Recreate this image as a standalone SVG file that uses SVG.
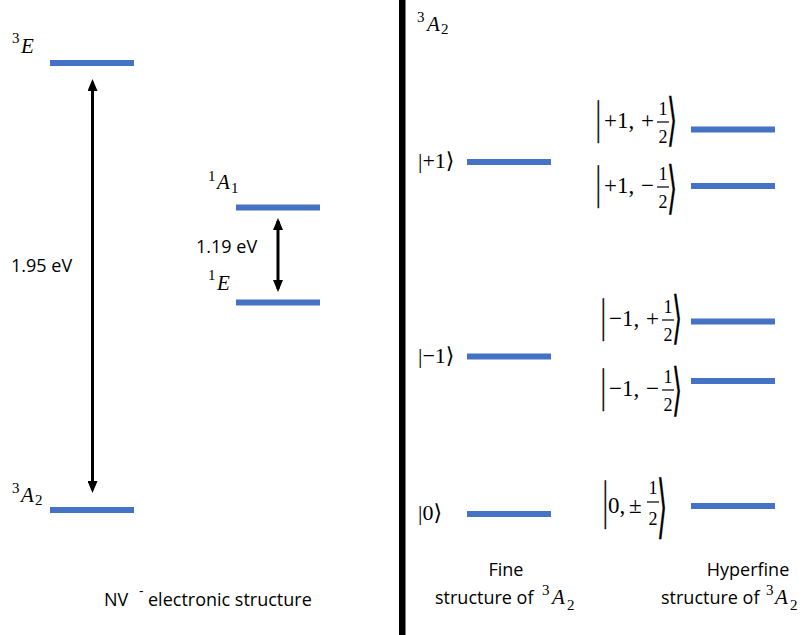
<svg xmlns="http://www.w3.org/2000/svg" width="805" height="635" viewBox="0 0 805 635">
<style>
.lvl{stroke:#4472C4;stroke-width:6}
.sans{font-family:"Open Sans","Liberation Sans",sans-serif;font-size:18px;fill:#000}
.mi{font-family:"Liberation Serif","DejaVu Serif",serif;font-style:italic;font-size:21px;fill:#000}
.sm{font-family:"Liberation Serif","DejaVu Serif",serif;font-size:15px;fill:#000}
.ket{font-family:"Liberation Serif","DejaVu Sans",serif;font-size:22px;fill:#000}
.hk{font-family:"Liberation Serif","DejaVu Serif",serif;font-size:23px;fill:#000}
.bar{font-family:"Liberation Serif","DejaVu Serif",serif;font-size:23px;fill:#000;stroke:#000;stroke-width:0.3}
.fr{font-family:"Liberation Serif","DejaVu Serif",serif;font-size:18px;fill:#000;text-anchor:middle}
.br{font-family:"DejaVu Sans",sans-serif;font-size:26px;fill:#000;stroke:#000;stroke-width:0.2}
.fb{stroke:#000;stroke-width:1.2}
.arr{stroke:#000;stroke-width:3;fill:none}
</style>
<defs>
<marker id="ah" viewBox="0 0 12 10" refX="9" refY="5" markerWidth="12" markerHeight="10" markerUnits="userSpaceOnUse" orient="auto-start-reverse">
<path d="M0,0 L12,5 L0,10 z" fill="#000"/>
</marker>
</defs>
<rect width="805" height="635" fill="#fff"/>
<rect x="399" y="0" width="6.5" height="635" fill="#000"/>

<g id="level-3E">
<line class="lvl" x1="50" y1="63" x2="134" y2="63"/>
<text class="sm" x="12" y="43">3</text>
<text class="mi" x="21" y="53">E</text>
</g>
<g id="level-3A2-left">
<line class="lvl" x1="50" y1="510" x2="134" y2="510"/>
<text class="sm" x="12" y="493">3</text>
<text class="mi" x="21" y="502">A</text>
<text class="sm" x="35" y="505">2</text>
</g>
<g id="level-1A1">
<line class="lvl" x1="236" y1="207.5" x2="320" y2="207.5"/>
<text class="sm" x="208" y="181">1</text>
<text class="mi" x="217" y="189">A</text>
<text class="sm" x="231" y="193">1</text>
</g>
<g id="level-1E">
<line class="lvl" x1="236" y1="302.5" x2="320" y2="302.5"/>
<text class="sm" x="208" y="280">1</text>
<text class="mi" x="217" y="290">E</text>
</g>
<text class="sans" x="11" y="272">1.95 eV</text>
<text class="sans" x="196" y="253">1.19 eV</text>
<g id="title-left">
<text class="sans" x="104" y="606">NV</text>
<text class="sans" x="139" y="596" style="font-size:14px">-</text>
<text class="sans" x="148" y="606">electronic structure</text>
</g>

<g id="header-3A2">
<text class="sm" x="417" y="22">3</text>
<text class="mi" x="427" y="31">A</text>
<text class="sm" x="441" y="34">2</text>
</g>

<g id="fine-p1">
<line class="lvl" x1="467" y1="162" x2="551" y2="162"/>
<text class="ket" x="418" y="168">|+1⟩</text>
</g>
<g id="fine-m1">
<line class="lvl" x1="467" y1="356.5" x2="551" y2="356.5"/>
<text class="ket" x="418" y="363">|−1⟩</text>
</g>
<g id="fine-0">
<line class="lvl" x1="467" y1="514" x2="551" y2="514"/>
<text class="ket" x="418" y="520">|0⟩</text>
</g>

<g id="hf-p1-p">
<line class="lvl" x1="691" y1="129.5" x2="775" y2="129.5"/>
<text class="bar" transform="translate(596,132.5) scale(1,2)">|</text>
<text class="hk" x="604" y="128">+1,</text>
<text class="hk" x="641" y="128">+</text>
<text class="fr" x="663" y="115">1</text>
<line class="fb" x1="657" y1="122" x2="669" y2="122"/>
<text class="fr" x="663" y="143">2</text>
<text class="br" transform="translate(667,139.2) scale(1,2.185)">⟩</text>
</g>
<g id="hf-p1-m">
<line class="lvl" x1="691" y1="186" x2="775" y2="186"/>
<g transform="translate(0,65)">
<text class="bar" transform="translate(596,132.5) scale(1,2)">|</text>
<text class="hk" x="604" y="128">+1,</text>
<text class="hk" x="641" y="128">−</text>
<text class="fr" x="663" y="115">1</text>
<line class="fb" x1="657" y1="122" x2="669" y2="122"/>
<text class="fr" x="663" y="143">2</text>
<text class="br" transform="translate(667,142.2) scale(1,2.185)">⟩</text>
</g>
</g>
<g id="hf-m1-p">
<line class="lvl" x1="691" y1="321.5" x2="775" y2="321.5"/>
<g transform="translate(5,198)">
<text class="bar" transform="translate(596,132.5) scale(1,2)">|</text>
<text class="hk" x="604" y="128">−1,</text>
<text class="hk" x="641" y="128">+</text>
<text class="fr" x="663" y="115">1</text>
<line class="fb" x1="657" y1="122" x2="669" y2="122"/>
<text class="fr" x="663" y="143">2</text>
<text class="br" transform="translate(667,139.2) scale(1,2.185)">⟩</text>
</g>
</g>
<g id="hf-m1-m">
<line class="lvl" x1="691" y1="381" x2="775" y2="381"/>
<g transform="translate(5,268)">
<text class="bar" transform="translate(596,132.5) scale(1,2)">|</text>
<text class="hk" x="604" y="128">−1,</text>
<text class="hk" x="641" y="128">−</text>
<text class="fr" x="663" y="115">1</text>
<line class="fb" x1="657" y1="122" x2="669" y2="122"/>
<text class="fr" x="663" y="143">2</text>
<text class="br" transform="translate(667,141.2) scale(1,2.185)">⟩</text>
</g>
</g>
<g id="hf-0">
<line class="lvl" x1="691" y1="506" x2="775" y2="506"/>
<text class="bar" transform="translate(603,518) scale(1,2.3)">|</text>
<text class="hk" x="608" y="513">0,</text>
<text class="hk" x="629" y="513">±</text>
<text class="fr" x="653" y="494">1</text>
<line class="fb" x1="647" y1="502" x2="659" y2="502"/>
<text class="fr" x="653" y="525">2</text>
<text class="br" transform="translate(657,529.7) scale(1,2.66)">⟩</text>
</g>

<g id="label-fine">
<text class="sans" x="506" y="576" text-anchor="middle">Fine</text>
<text class="sans" x="435" y="604">structure of</text>
<text class="sm" x="542" y="595">3</text>
<text class="mi" x="552" y="604">A</text>
<text class="sm" x="567" y="610">2</text>
</g>
<g id="label-hyperfine">
<text class="sans" x="748" y="576" text-anchor="middle">Hyperfine</text>
<text class="sans" x="661" y="604">structure of</text>
<text class="sm" x="766" y="595">3</text>
<text class="mi" x="775" y="604">A</text>
<text class="sm" x="790" y="610">2</text>
</g>

<g id="connectors">
<line class="arr" x1="92.5" y1="82" x2="92.5" y2="490" marker-start="url(#ah)" marker-end="url(#ah)"/>
<line class="arr" x1="278" y1="221" x2="278" y2="289" marker-start="url(#ah)" marker-end="url(#ah)"/>
</g>
</svg>
